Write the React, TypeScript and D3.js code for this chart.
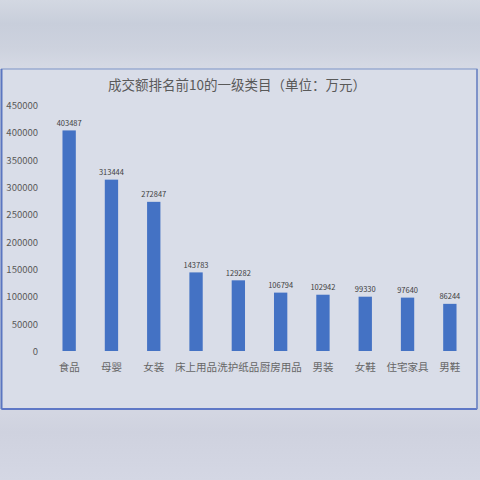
import * as d3 from "d3";

const categories = ["食品", "母婴", "女装", "床上用品", "洗护纸品", "厨房用品", "男装", "女鞋", "住宅家具", "男鞋"];
const values = [403487, 313444, 272847, 143783, 129282, 106794, 102942, 99330, 97640, 86244];
const yTicks = [0, 50000, 100000, 150000, 200000, 250000, 300000, 350000, 400000, 450000];
const title = "成交额排名前10的一级类目（单位：万元）";

const W = 480;
const H = 480;
const box = { x: 1.5, y: 69, w: 475.5, h: 340 };
const plot = { left: 48, right: 471, top: 105, bottom: 351 };
const FONT = "'Noto Sans CJK SC', 'Noto Sans', sans-serif";

export default function App() {
  const x = d3
    .scaleBand<string>()
    .domain(categories)
    .range([plot.left, plot.right])
    .paddingInner(0.685)
    .paddingOuter(0.3425);
  const y = d3.scaleLinear().domain([0, 450000]).range([plot.bottom, plot.top]);

  return (
    <div style={{ position: "absolute", left: 0, top: 0, width: W, height: H }}>
      <svg width={W} height={H} viewBox={`0 0 ${W} ${H}`} style={{ display: "block" }}>
        <defs>
          <linearGradient id="bg" x1="0" y1="0" x2="0" y2="1">
            <stop offset="0" stopColor="#d3d8e2" />
            <stop offset="0.05" stopColor="#c8cedb" />
            <stop offset="0.1" stopColor="#cdd2de" />
            <stop offset="0.14" stopColor="#d5d9e4" />
            <stop offset="0.86" stopColor="#d3d6e2" />
            <stop offset="0.9" stopColor="#cfd2df" />
            <stop offset="1" stopColor="#d4d7e4" />
          </linearGradient>
        </defs>
        <rect x={0} y={0} width={W} height={H} fill="url(#bg)" />

        {/* chart frame */}
        <rect
          x={box.x}
          y={box.y}
          width={box.w}
          height={box.h}
          fill="#d9dde8"
          stroke="#7d93c6"
          strokeWidth={1}
        />
        <line x1={box.x} y1={box.y} x2={box.x} y2={box.y + box.h} stroke="#5b76c0" strokeWidth={2} />
        <line x1={box.x} y1={box.y + box.h} x2={box.x + box.w} y2={box.y + box.h} stroke="#5f78c6" strokeWidth={2} />
        <line x1={box.x + box.w} y1={box.y} x2={box.x + box.w} y2={box.y + box.h} stroke="#6f86c4" strokeWidth={1.5} />

        <text
          x={237}
          y={83.5}
          textAnchor="middle"
          dominantBaseline="central"
          fontFamily={FONT}
          fontSize={13.5}
          fill="#595959"
        >
          {title}
        </text>

        {/* y tick labels */}
        {yTicks.map((t) => (
          <text
            key={t}
            x={38}
            y={y(t)}
            textAnchor="end"
            dominantBaseline="central"
            fontFamily={FONT}
            fontSize={9.5}
            fill="#595959"
          >
            {t}
          </text>
        ))}

        {/* bars */}
        {categories.map((c, i) => (
          <rect
            key={c}
            x={x(c)}
            y={y(values[i])}
            width={x.bandwidth()}
            height={y(0) - y(values[i])}
            fill="#4472c4"
          />
        ))}

        {/* data labels */}
        {categories.map((c, i) => (
          <text
            key={c}
            x={(x(c) as number) + x.bandwidth() / 2}
            y={y(values[i]) - 8}
            textAnchor="middle"
            dominantBaseline="central"
            fontFamily={FONT}
            fontSize={7.5}
            fill="#404040"
          >
            {values[i]}
          </text>
        ))}

        {/* category labels */}
        {categories.map((c) => (
          <text
            key={c}
            x={(x(c) as number) + x.bandwidth() / 2}
            y={366.5}
            textAnchor="middle"
            dominantBaseline="central"
            fontFamily={FONT}
            fontSize={10.5}
            fill="#666666"
          >
            {c}
          </text>
        ))}
      </svg>
    </div>
  );
}
